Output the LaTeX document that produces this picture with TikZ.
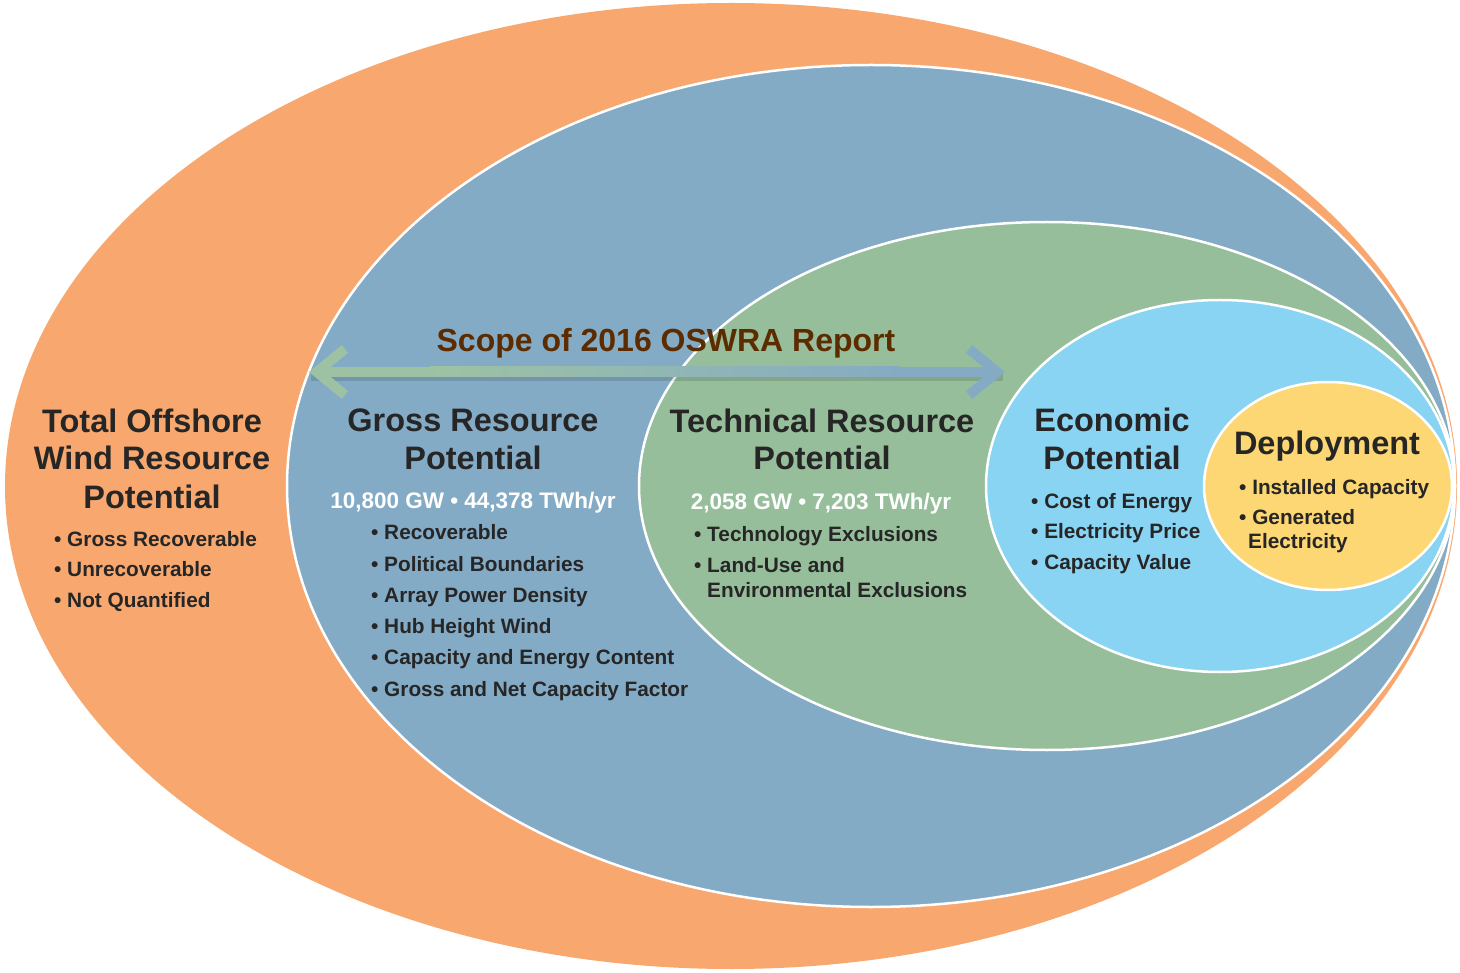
\documentclass[tikz,border=0pt]{standalone}
\usepackage{fontspec}
\setmainfont{Liberation Sans}
\usepackage{tikz}
\usetikzlibrary{arrows.meta}

\definecolor{totalcol}{HTML}{F8A86F}
\definecolor{grosscol}{HTML}{84ABC6}
\definecolor{techcol}{HTML}{96BE9B}
\definecolor{econcol}{HTML}{89D3F3}
\definecolor{deploycol}{HTML}{FDD773}
\definecolor{textcol}{HTML}{262626}
\definecolor{scopecol}{HTML}{5C2C00}
\definecolor{arrowgreen}{HTML}{9DC2A3}
\definecolor{arrowblue}{HTML}{85ABC4}

\tikzset{
  region/.style={draw=white, line width=2.5pt},
  title/.style={font=\fontsize{32.5}{38}\selectfont\bfseries, text=textcol, anchor=base, inner sep=0pt},
  item/.style={font=\fontsize{20.8}{24}\selectfont\bfseries, text=textcol, anchor=base west, inner sep=0pt},
  amount/.style={font=\fontsize{22.5}{26}\selectfont\bfseries, text=white, anchor=base, inner sep=0pt},
  scopeline/.style={line width=10pt},
}
\newcommand{\itm}{\textbullet\ }

\begin{document}
\begin{tikzpicture}[x=1pt,y=-1pt]
  \useasboundingbox (0,0) rectangle (1460,973);

  % nested regions
  \fill[totalcol] (731,486) ellipse [x radius=726pt, y radius=483pt];
  \filldraw[region, fill=grosscol] (871,486) ellipse [x radius=584pt, y radius=421pt];
  \filldraw[region, fill=techcol] (1047,486) ellipse [x radius=408pt, y radius=264pt];
  \filldraw[region, fill=econcol] (1220,486) ellipse [x radius=234pt, y radius=186pt];
  \filldraw[region, fill=deploycol] (1328,486) ellipse [x radius=124pt, y radius=104pt];

  % scope arrow
  \coordinate (scopeL) at (309,372);
  \coordinate (scopeM) at (660,372);
  \coordinate (scopeR) at (1005,372);

  \draw[scopeline, black, opacity=0.12]
     ([shift={(2,4)}]scopeL) -- ([shift={(-2,4)}]scopeR);
  \draw[scopeline, arrowgreen, {Straight Barb[length=28pt,width=46pt]}-]
     (scopeL) -- (scopeM);
  \draw[scopeline, arrowblue, -{Straight Barb[length=28pt,width=46pt]}]
     (scopeM) -- (scopeR);
  \shade[left color=arrowgreen, right color=arrowblue]
     (430,367) rectangle (900,377);

  \node (scope) at (666,352) [anchor=base, inner sep=0pt, text=scopecol,
     font=\fontsize{32}{38}\selectfont\bfseries] {Scope of 2016 OSWRA Report};

  % total
  \node[title] (tot1) at (152,433) {Total Offshore};
  \node[title] (tot2) at (152,470) {Wind Resource};
  \node[title] (tot3) at (152,508) {Potential};
  \node[item] (totb1) at (54,546) {\itm Gross Recoverable};
  \node[item] (totb2) at (54,576) {\itm Unrecoverable};
  \node[item] (totb3) at (54,607) {\itm Not Quantified};

  % gross
  \node[title] (gro1) at (473,432) {Gross Resource};
  \node[title] (gro2) at (473,470) {Potential};
  \node[amount] (groval) at (473,508) {10,800 GW \textbullet\ 44,378 TWh/yr};
  \node[item] (grob1) at (371,539) {\itm Recoverable};
  \node[item] (grob2) at (371,571) {\itm Political Boundaries};
  \node[item] (grob3) at (371,602) {\itm Array Power Density};
  \node[item] (grob4) at (371,633) {\itm Hub Height Wind};
  \node[item] (grob5) at (371,664) {\itm Capacity and Energy Content};
  \node[item] (grob6) at (371,696) {\itm Gross and Net Capacity Factor};

  % technical
  \node[title] (tec1) at (822,433) {Technical Resource};
  \node[title] (tec2) at (822,470) {Potential};
  \node[amount] (tecval) at (821,509) {2,058 GW \textbullet\ 7,203 TWh/yr};
  \node[item] (tecb1) at (694,541) {\itm Technology Exclusions};
  \node[item] (tecb2) at (694,572) {\itm Land-Use and};
  \node[item] (tecb3) at (707,597) {Environmental Exclusions};

  % economic
  \node[title] (eco1) at (1112,432) {Economic};
  \node[title] (eco2) at (1112,470) {Potential};
  \node[item] (ecob1) at (1031,508) {\itm Cost of Energy};
  \node[item] (ecob2) at (1031,538) {\itm Electricity Price};
  \node[item] (ecob3) at (1031,569) {\itm Capacity Value};

  % deployment
  \node[title] (dep1) at (1327,455) {Deployment};
  \node[item] (depb1) at (1239,494) {\itm Installed Capacity};
  \node[item] (depb2) at (1239,524) {\itm Generated};
  \node[item] (depb3) at (1248,548) {Electricity};

\end{tikzpicture}
\end{document}
